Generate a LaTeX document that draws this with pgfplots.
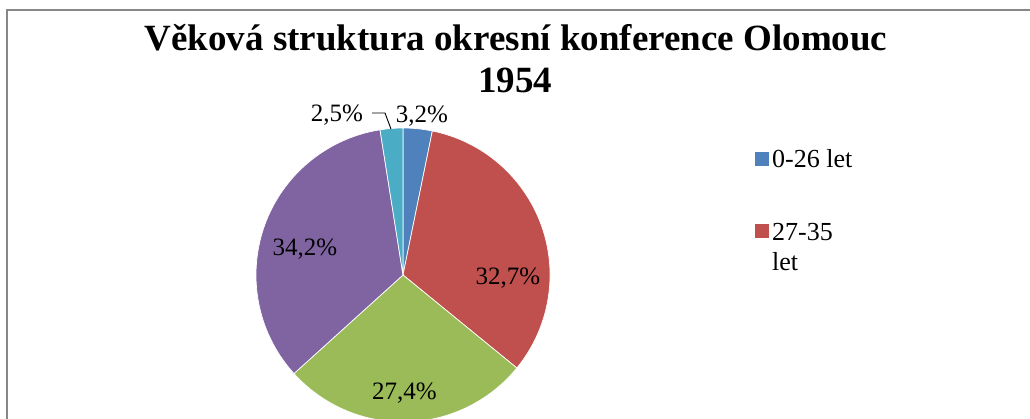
\documentclass[border=0pt]{standalone}
\usepackage{pgfplots}
\usepackage{pgfplotstable}
\pgfplotsset{compat=1.18}
\usepackage{fontspec}
\setmainfont{Liberation Serif}
\definecolor{c0}{HTML}{4F81BD}
\definecolor{c1}{HTML}{C0504D}
\definecolor{c2}{HTML}{9BBB59}
\definecolor{c3}{HTML}{8064A2}
\definecolor{c4}{HTML}{4BACC6}
\definecolor{framegray}{HTML}{878787}

\pgfplotstableread[col sep=comma]{
label,value
0-26 let,3.2
27-35 let,32.7
36-45 let,27.4
46-60 let,34.2
nad 60 let,2.5
}\piedata

\begin{document}
\begin{tikzpicture}
\path[use as bounding box] (0,0) rectangle (1030pt,418pt);
\begin{axis}[
  at={(0,0)}, anchor=south west,
  scale only axis, width=1030pt, height=418pt,
  xmin=0, xmax=1030, ymin=0, ymax=418,
  hide axis, clip=true,
]
\pgfplotsextra{
  \xdef\cumangle{90}
  \foreach \i in {0,...,4} {
    \pgfplotstablegetelem{\i}{value}\of\piedata
    \pgfmathsetmacro\a{\cumangle}
    \pgfmathsetmacro\b{\cumangle-3.6*\pgfplotsretval}
    \fill[c\i, draw=white, line width=0.7pt, line join=round]
      (axis cs:403,143) -- ++(\a:147pt) arc[start angle=\a, end angle=\b, radius=147pt] -- cycle;
    \xdef\cumangle{\b}
  }
  % frame
  \draw[framegray, line width=1.8pt] (axis cs:7,-20) rectangle (axis cs:1050,408);
  % title
  \node[anchor=base, inner sep=0pt, font=\fontsize{37}{44}\selectfont\bfseries]
    at (axis cs:516,367) {Věková struktura okresní konference Olomouc};
  \node[anchor=base, inner sep=0pt, font=\fontsize{37}{44}\selectfont\bfseries]
    at (axis cs:515,325) {1954};
  % data labels
  \begin{scope}[every node/.style={anchor=base, inner sep=0pt, font=\fontsize{25}{30}\selectfont}]
    \node at (axis cs:422,295) {3,2\%};
    \node at (axis cs:337,296) {2,5\%};
    \node at (axis cs:305,163) {34,2\%};
    \node at (axis cs:508,134) {32,7\%};
    \node at (axis cs:404.5,19) {27,4\%};
  \end{scope}
  \draw[black, line width=0.9pt] (axis cs:372,305) -- (axis cs:385,305) -- (axis cs:391,289);
  % legend
  \fill[c0] (axis cs:755,252) rectangle (axis cs:769,266);
  \fill[c1] (axis cs:755,180) rectangle (axis cs:769,194);
  \begin{scope}[every node/.style={anchor=base west, inner sep=0pt, font=\fontsize{26}{30}\selectfont}]
    \node at (axis cs:772,250) {0-26 let};
    \node at (axis cs:772,177) {27-35};
    \node at (axis cs:772,148) {let};
  \end{scope}
}
\end{axis}
\end{tikzpicture}
\end{document}
